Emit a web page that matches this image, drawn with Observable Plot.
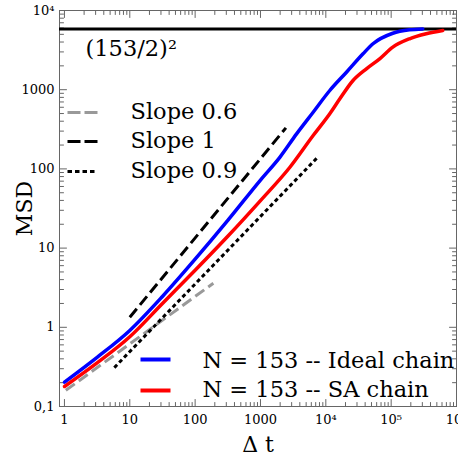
<!DOCTYPE html>
<html><head><meta charset="utf-8">
<script src="https://cdn.jsdelivr.net/npm/d3@7"></script>
<script src="https://cdn.jsdelivr.net/npm/@observablehq/plot@0.6"></script>
<style>body{margin:0;background:#fff}</style>
</head><body><div id="chart"></div>
<script>
// Ideal chain (N = 153)
const idealDt  = [1, 3.16, 10, 31.6, 100, 316, 1000, 1990, 3570, 6400, 11500, 20700, 37100, 52700, 106000, 191000, 305000];
const idealMsd = [0.203, 0.417, 0.912, 2.45, 7.24, 22.4, 72.4, 141, 277, 520, 977, 1663, 2838, 3802, 5164, 5702, 5852];
// SA chain (N = 153)
const saDt  = [1, 3.16, 10, 31.6, 100, 316, 1000, 2820, 6400, 11500, 16400, 26100, 41800, 66700, 106000, 191000, 344000, 617000];
const saMsd = [0.179, 0.355, 0.759, 2.0, 5.25, 14.1, 39.8, 105, 264, 497, 767, 1306, 1837, 2455, 3443, 4395, 5082, 5585];
// reference slope lines (endpoints)
const slope06Dt = [1.05, 190], slope06Msd = [0.16, 3.6];
const slope1Dt = [10, 2450], slope1Msd = [1.34, 330];
const slope09Dt = [5.8, 7740], slope09Msd = [0.31, 144];
// plateau (153/2)^2
const plateau = [5852.25];
const plateauLabel = ["(153/2)²"];
const slopeLabels = ["Slope 0.6", "Slope 1", "Slope 0.9"];
const seriesLabels = ["N = 153 -- Ideal chain", "N = 153 -- SA chain"];
// ticks
const xMajor = [1, 10, 100, 1000, 1e4, 1e5, 1e6];
const xTickLabels = ["1", "10", "100", "1000", "10⁴", "10⁵", "10⁶"];
const yMajor = [0.1, 1, 10, 100, 1000, 1e4];
const yTickLabels = ["0,1", "1", "10", "100", "1000", "10⁴"];
const mult = [2, 3, 4, 5, 6, 7, 8, 9];
const xMinor = xMajor.slice(0, -1).flatMap(d => mult.map(m => m * d));
const yMinor = yMajor.slice(0, -1).flatMap(d => mult.map(m => +(m * d).toPrecision(3)));

const zip = (xs, ys) => xs.map((x, i) => ({x, y: ys[i]}));
const tickShape = {draw(ctx, l) { ctx.moveTo(0, 0); ctx.lineTo(0, -l); }};
const axisColor = "#666";
const F = 22.5;

function ticks(data, ch, anchor, rotate, len) {
  const o = {frameAnchor: anchor, rotate, length: len, anchor: "start", shape: tickShape, stroke: axisColor, strokeWidth: 1};
  o[ch] = d => d;
  return Plot.vector(data, o);
}
function legendLine(dx, dy, opts) {
  return Plot.vector([0], {frameAnchor: "top-left", dx, dy, rotate: 90, length: 30, anchor: "start", shape: tickShape, strokeLinecap: "butt", ...opts});
}
function label(text, dx, dy, extra = {}) {
  return Plot.text([text], {text: d => d, frameAnchor: "top-left", dx, dy, textAnchor: "start", lineAnchor: "middle", fontSize: F, fill: "black", ...extra});
}

const chart = Plot.plot({
  width: 458, height: 457,
  marginLeft: 59, marginRight: 2, marginTop: 10, marginBottom: 51,
  style: {fontFamily: "DejaVu Serif", background: "white", color: "black"},
  x: {type: "log", domain: [0.84, 1e6]},
  y: {type: "log", domain: [0.1, 1e4]},
  marks: [
    Plot.frame({stroke: axisColor}),
    ticks(xMajor, "x", "bottom", 0, 7), ticks(xMinor, "x", "bottom", 0, 4),
    ticks(xMajor, "x", "top", 180, 7), ticks(xMinor, "x", "top", 180, 4),
    ticks(yMajor, "y", "left", 90, 7), ticks(yMinor, "y", "left", 90, 4),
    ticks(yMajor, "y", "right", -90, 7), ticks(yMinor, "y", "right", -90, 4),
    Plot.axisX({ticks: xMajor, tickFormat: d => xTickLabels[xMajor.indexOf(d)], tickSize: 0, tickPadding: 8, fontSize: 13, label: null}),
    Plot.axisY({ticks: yMajor, tickFormat: d => yTickLabels[yMajor.indexOf(d)], tickSize: 0, tickPadding: 5, fontSize: 13, label: null}),
    Plot.ruleY(plateau, {stroke: "black", strokeWidth: 3}),
    Plot.line(zip(slope06Dt, slope06Msd), {x: "x", y: "y", stroke: "#999", strokeWidth: 3, strokeDasharray: "11,5", strokeLinecap: "butt"}),
    Plot.line(zip(slope1Dt, slope1Msd), {x: "x", y: "y", stroke: "black", strokeWidth: 3, strokeDasharray: "11,5", strokeLinecap: "butt"}),
    Plot.line(zip(slope09Dt, slope09Msd), {x: "x", y: "y", stroke: "black", strokeWidth: 3, strokeDasharray: "4,3", strokeLinecap: "butt"}),
    Plot.line(zip(saDt, saMsd), {x: "x", y: "y", stroke: "#ff0000", strokeWidth: 3.5, curve: "monotone-x"}),
    Plot.line(zip(idealDt, idealMsd), {x: "x", y: "y", stroke: "#0000ff", strokeWidth: 3.5, curve: "monotone-x"}),
    label(plateauLabel[0], 26, 38),
    legendLine(8, 102, {stroke: "#999", strokeWidth: 3, strokeDasharray: "13,4"}),
    legendLine(8, 131, {stroke: "black", strokeWidth: 3, strokeDasharray: "13,4"}),
    legendLine(8, 161, {stroke: "black", strokeWidth: 3, strokeDasharray: "4.5,3"}),
    label(slopeLabels[0], 71, 101),
    label(slopeLabels[1], 71, 130),
    label(slopeLabels[2], 71, 160),
    legendLine(81, 349, {stroke: "#0000ff", strokeWidth: 4}),
    legendLine(81, 380, {stroke: "#ff0000", strokeWidth: 4}),
    label(seriesLabels[0], 143, 350),
    label(seriesLabels[1], 143, 379),
    Plot.text(["MSD"], {text: d => d, frameAnchor: "left", dx: -35, dy: 0, rotate: -90, textAnchor: "middle", lineAnchor: "middle", fontSize: 22, fill: "black"}),
    Plot.text(["Δ t"], {text: d => d, frameAnchor: "bottom", dy: 38, textAnchor: "middle", lineAnchor: "middle", fontSize: 22, fill: "black"})
  ]
});
document.getElementById("chart").append(chart);
</script>
</body></html>
